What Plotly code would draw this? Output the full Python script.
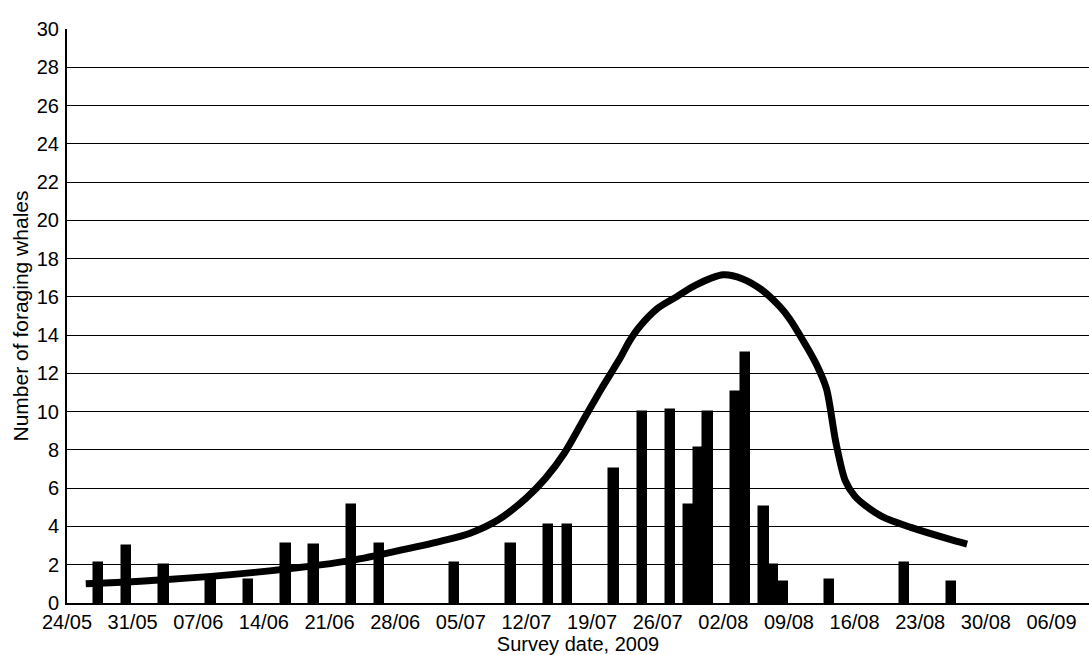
import plotly.graph_objects as go

# Bars: survey dates and number of foraging whales
bar_dates = ["2009-05-27", "2009-05-30", "2009-06-03", "2009-06-08", "2009-06-12",
             "2009-06-16", "2009-06-19", "2009-06-23", "2009-06-26", "2009-07-04",
             "2009-07-10", "2009-07-14", "2009-07-16", "2009-07-21", "2009-07-24",
             "2009-07-27", "2009-07-29", "2009-07-30", "2009-07-31", "2009-08-03",
             "2009-08-04", "2009-08-06", "2009-08-07", "2009-08-08", "2009-08-13",
             "2009-08-21", "2009-08-26"]
bar_values = [2.1, 3.0, 2.0, 1.2, 1.2, 3.1, 3.05, 5.1, 3.1, 2.1,
              3.1, 4.1, 4.1, 7.0, 10.0, 10.1, 5.1, 8.1, 10.0, 11.05,
              13.05, 5.0, 2.0, 1.1, 1.2, 2.1, 1.1]

# Smoothed curve
curve_dates = ["2009-05-26", "2009-06-03", "2009-06-13", "2009-06-23", "2009-06-28",
               "2009-07-03", "2009-07-06", "2009-07-09", "2009-07-12", "2009-07-14",
               "2009-07-16", "2009-07-18", "2009-07-20", "2009-07-22", "2009-07-23",
               "2009-07-24", "2009-07-26", "2009-07-28", "2009-07-30", "2009-08-02",
               "2009-08-04", "2009-08-06", "2009-08-08", "2009-08-09", "2009-08-11",
               "2009-08-12", "2009-08-13", "2009-08-14", "2009-08-15", "2009-08-16",
               "2009-08-17", "2009-08-19", "2009-08-22", "2009-08-26", "2009-08-28"]
curve_values = [1.0, 1.2, 1.6, 2.2, 2.7,
                3.25, 3.65, 4.35, 5.5, 6.5,
                7.8, 9.5, 11.2, 12.8, 13.7,
                14.4, 15.4, 16.0, 16.6, 17.15,
                16.95, 16.4, 15.5, 14.9, 13.3,
                12.4, 11.2, 8.4, 6.4, 5.6,
                5.15, 4.5, 3.95, 3.35, 3.08]

x_title = "Survey date, 2009"
y_title = "Number of foraging whales"

FONT = "Liberation Sans, Arial, sans-serif"
DAY = 86400000

fig = go.Figure()
fig.add_trace(go.Bar(
    x=bar_dates, y=bar_values,
    width=DAY,
    offset=-0.15 * DAY,
    marker=dict(color="black", line=dict(color="black", width=1.5)),
    showlegend=False,
))
fig.add_trace(go.Scatter(
    x=curve_dates, y=curve_values,
    mode="lines",
    line=dict(color="black", width=7, shape="spline", smoothing=0.8),
    showlegend=False,
))

fig.update_layout(
    width=1089, height=655,
    margin=dict(l=67, r=0, t=29, b=52),
    paper_bgcolor="white", plot_bgcolor="white",
    font=dict(family=FONT, size=20, color="black"),
    bargap=0,
)
fig.update_xaxes(
    type="date",
    range=["2009-05-24", "2009-09-10"],
    tick0="2009-05-24", dtick=7 * DAY,
    tickformat="%d/%m",
    showgrid=False, zeroline=False,
    showline=True, linecolor="black", linewidth=2,
    ticks="", automargin=False, ticklabelstandoff=0,
    tickfont=dict(size=20, family=FONT, color="black"),
    title=dict(text=x_title, font=dict(size=20, family=FONT, color="black"), standoff=3),
)
fig.update_yaxes(
    range=[0, 30], dtick=2, tick0=0,
    showgrid=True, gridcolor="black", gridwidth=1.3,
    zeroline=False,
    showline=True, linecolor="black", linewidth=2,
    ticks="", automargin=False, ticklabelstandoff=2,
    tickfont=dict(size=20, family=FONT, color="black"),
    title=dict(text=y_title, font=dict(size=21, family=FONT, color="black"), standoff=2),
)

fig.write_html("out.html", config={"displayModeBar": False},
               post_script="document.body.style.margin='0';")
